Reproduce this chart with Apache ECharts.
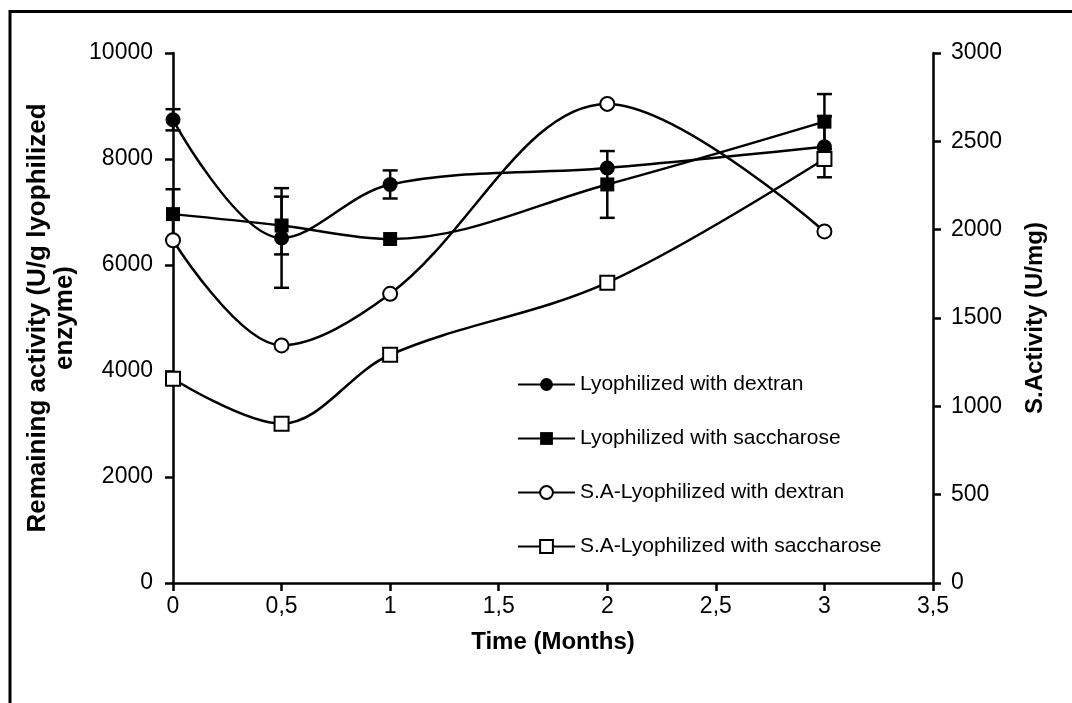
<!DOCTYPE html>
<html>
<head>
<meta charset="utf-8">
<script src="https://cdn.jsdelivr.net/npm/echarts@6/dist/echarts.min.js"></script>
<style>
  html, body { margin: 0; padding: 0; background: #fff; }
  #chart { width: 1072px; height: 703px; }
</style>
</head>
<body>
<div id="chart"></div>
<script>
// Storage time in months
const months = [0, 0.5, 1, 2, 3];

// Remaining activity (U/g lyophilized enzyme) with standard deviations
const dextran = [8740, 6510, 7520, 7830, 8230];
const dextranErr = [200, 940, 265, 0, 575];
const saccharose = [6960, 6745, 6490, 7520, 8705];
const saccharoseErr = [470, 545, 0, 630, 520];

// Specific activity (U/mg)
const saDextran = [1940, 1345, 1637, 2712, 1990];
const saSaccharose = [1156, 902, 1292, 1700, 2400];

// Axis ticks
const xTicks = { min: 0, max: 3.5, interval: 0.5 };
const leftTicks = { min: 0, max: 10000, interval: 2000 };
const rightTicks = { min: 0, max: 3000, interval: 500 };

const FONT = '"Liberation Sans", Arial, Helvetica, sans-serif';
const BLACK = '#000';
const LW = 2.5;
const TICK_FONT = 23;

const pairs = (xs, ys) => xs.map((x, i) => [x, ys[i]]);
const errTriples = (xs, ys, es) => xs.map((x, i) => [x, ys[i], es[i]]);
const plain = v => String(v).replace('.', ',');

// Vertical error bar with caps
function renderErrorBar(params, api) {
  const x = api.value(0), v = api.value(1), e = api.value(2);
  if (!e) return null;
  const top = api.coord([x, v + e]);
  const bot = api.coord([x, v - e]);
  const half = 7.5;
  const style = { stroke: BLACK, lineWidth: LW };
  return {
    type: 'group',
    children: [
      { type: 'line', shape: { x1: top[0], y1: top[1], x2: bot[0], y2: bot[1] }, style },
      { type: 'line', shape: { x1: top[0] - half, y1: top[1], x2: top[0] + half, y2: top[1] }, style },
      { type: 'line', shape: { x1: bot[0] - half, y1: bot[1], x2: bot[0] + half, y2: bot[1] }, style }
    ]
  };
}

function lineSeries(name, data, yAxisIndex, symbol, filled, size) {
  return {
    name, type: 'line', yAxisIndex, data,
    smooth: 0.35,
    symbol, symbolSize: size, showAllSymbol: true,
    lineStyle: { color: BLACK, width: LW },
    itemStyle: { color: filled ? BLACK : '#fff', borderColor: BLACK, borderWidth: filled ? 0 : 2 },
    emphasis: { disabled: true },
    z: 3
  };
}

const axisCommon = {
  axisLine: { show: true, lineStyle: { color: BLACK, width: LW } },
  axisTick: { show: true, length: 8, lineStyle: { color: BLACK, width: LW } },
  splitLine: { show: false }
};

const chart = echarts.init(document.getElementById('chart'), null, { renderer: 'canvas' });

chart.setOption({
  animation: false,
  backgroundColor: '#fff',
  textStyle: { fontFamily: FONT, color: BLACK },
  grid: { left: 173, right: 139, top: 53, bottom: 120, containLabel: false },
  graphic: [{
    type: 'rect', silent: true,
    shape: { x: 10, y: 11.5, width: 1100, height: 800 },
    style: { fill: 'none', stroke: BLACK, lineWidth: 3 }
  }],
  legend: {
    orient: 'vertical',
    left: 512, top: 369,
    itemWidth: 57, itemHeight: 16, itemGap: 33,
    textStyle: { fontFamily: FONT, fontSize: 21, color: BLACK },
    data: ['Lyophilized with dextran', 'Lyophilized with saccharose',
           'S.A-Lyophilized with dextran', 'S.A-Lyophilized with saccharose']
  },
  xAxis: Object.assign({
    type: 'value', min: xTicks.min, max: xTicks.max, interval: xTicks.interval,
    name: 'Time (Months)', nameLocation: 'middle', nameGap: 47,
    nameTextStyle: { fontFamily: FONT, fontSize: 24, fontWeight: 'bold', color: BLACK },
    axisLabel: { fontFamily: FONT, fontSize: TICK_FONT, color: BLACK, margin: 12, formatter: plain }
  }, axisCommon),
  yAxis: [Object.assign({
    type: 'value', position: 'left',
    min: leftTicks.min, max: leftTicks.max, interval: leftTicks.interval,
    name: 'Remaining activity (U/g lyophilized\nenzyme)', nameLocation: 'middle', nameRotate: 90, nameGap: 93,
    nameTextStyle: { fontFamily: FONT, fontSize: 26, fontWeight: 'bold', color: BLACK, lineHeight: 27 },
    axisLabel: { fontFamily: FONT, fontSize: TICK_FONT, color: BLACK, margin: 20, formatter: plain }
  }, axisCommon), Object.assign({
    type: 'value', position: 'right',
    min: rightTicks.min, max: rightTicks.max, interval: rightTicks.interval,
    name: 'S.Activity (U/mg)', nameLocation: 'middle', nameRotate: 90, nameGap: 90,
    nameTextStyle: { fontFamily: FONT, fontSize: 24, fontWeight: 'bold', color: BLACK },
    axisLabel: { fontFamily: FONT, fontSize: TICK_FONT, color: BLACK, margin: 18, formatter: plain }
  }, axisCommon)],
  series: [
    {
      type: 'custom', yAxisIndex: 0, renderItem: renderErrorBar,
      data: errTriples(months, dextran, dextranErr), z: 2, silent: true
    },
    {
      type: 'custom', yAxisIndex: 0, renderItem: renderErrorBar,
      data: errTriples(months, saccharose, saccharoseErr), z: 2, silent: true
    },
    lineSeries('Lyophilized with dextran', pairs(months, dextran), 0, 'circle', true, 15),
    lineSeries('Lyophilized with saccharose', pairs(months, saccharose), 0, 'rect', true, 14),
    lineSeries('S.A-Lyophilized with dextran', pairs(months, saDextran), 1, 'circle', false, 14),
    lineSeries('S.A-Lyophilized with saccharose', pairs(months, saSaccharose), 1, 'rect', false, 14)
  ]
});
</script>
</body>
</html>
